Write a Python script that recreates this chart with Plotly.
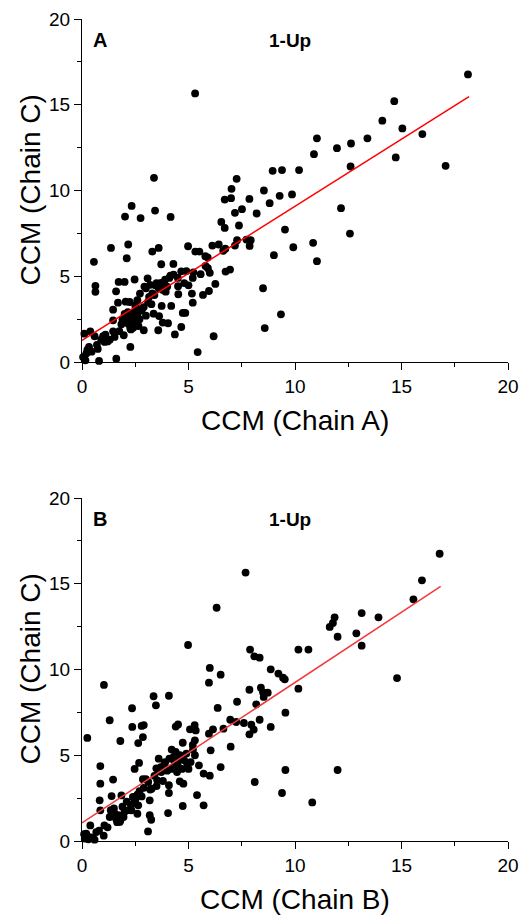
import plotly.graph_objects as go

# ---------------- Panel A: Chain A vs Chain C ----------------
a_x = [18.12, 5.31, 14.66, 14.10, 15.04, 15.98, 13.40, 11.03, 12.63, 11.97, 10.89, 14.73, 17.07, 12.61,
       8.95, 9.39, 10.19, 3.38, 7.26, 7.02, 8.54, 9.86, 9.28, 6.70, 7.00, 7.86, 8.81, 2.33, 7.51, 7.18,
       3.43, 8.20, 12.16, 2.02, 2.75, 4.16, 6.54, 6.70, 7.37, 9.53, 12.58, 7.28, 7.72, 7.92, 7.18, 7.87,
       10.85, 9.92, 2.17, 1.36, 3.60, 3.30, 4.98, 5.32, 5.51, 6.12, 6.42, 6.73, 6.63, 5.79, 2.10, 9.01,
       11.03, 0.56, 3.72, 4.29, 5.91, 6.95, 6.74, 4.66, 5.57, 4.15, 5.23, 0.63, 0.63, 2.47, 3.08, 1.72,
       2.00, 1.60, 8.50, 6.26, 4.51, 5.00, 2.93, 3.44, 3.71, 3.93, 4.52, 5.16, 5.68, 5.96, 2.72, 2.05,
       2.24, 1.69, 5.20, 3.26, 3.74, 4.19, 1.46, 2.80, 4.73, 4.85, 9.34, 3.36, 3.62, 1.46, 2.08, 2.39,
       3.79, 4.04, 2.27, 2.90, 3.58, 4.66, 4.36, 8.58, 6.18, 1.96, 0.11, 0.39, 0.59, 0.99, 1.46, 1.53,
       1.06, 1.30, 2.27, 0.74, 0.33, 0.20, 5.43, 1.61, 0.80, 0.16, 0.05,
       2.10, 2.30, 2.50, 2.60, 2.40, 2.20, 2.70, 2.80, 3.00, 2.90, 2.50, 2.00, 1.90, 2.60, 2.30, 3.10,
       3.40, 3.60, 3.20, 3.50, 3.90, 4.10, 4.30, 4.00, 4.50, 3.80, 3.00, 3.30, 2.60, 4.80, 5.20, 4.90,
       5.80, 5.90, 6.00, 1.20, 0.90, 0.45, 0.25, 1.75, 2.15, 2.55, 3.15, 1.85, 0.70, 1.10, 2.45, 2.65]
a_y = [16.77, 15.66, 15.21, 14.07, 13.62, 13.29, 13.04, 13.04, 12.74, 12.47, 12.12, 11.93, 11.44, 11.40,
       11.15, 11.19, 11.19, 10.74, 10.68, 10.10, 10.00, 9.77, 9.69, 9.47, 9.55, 9.51, 9.26, 9.10, 8.91, 8.70,
       8.83, 8.66, 8.97, 8.48, 8.39, 8.46, 8.17, 7.82, 7.96, 7.72, 7.49, 7.10, 7.14, 7.10, 6.79, 6.77,
       6.95, 6.69, 6.85, 6.65, 6.65, 6.44, 6.75, 6.44, 6.44, 6.79, 6.85, 6.61, 6.48, 6.17, 6.05, 6.23,
       5.88, 5.84, 5.70, 5.72, 5.47, 5.39, 5.27, 5.29, 5.12, 5.04, 5.23, 4.44, 4.09, 4.81, 4.88, 4.67,
       4.67, 4.12, 4.30, 4.55, 4.42, 4.47, 4.40, 4.47, 4.61, 4.10, 3.95, 3.99, 3.91, 4.14, 3.99, 3.52,
       3.50, 3.46, 3.46, 3.37, 3.27, 3.27, 3.05, 3.11, 2.86, 2.86, 2.78, 2.82, 2.68, 2.43, 2.63, 2.43,
       2.30, 2.26, 1.95, 1.85, 1.85, 2.04, 1.61, 1.98, 1.50, 1.56, 1.65, 1.79, 1.50, 1.50, 1.79, 1.46,
       1.17, 1.30, 0.88, 0.76, 0.88, 0.49, 0.58, 0.19, 0.06, 0.10, 0.29,
       2.30, 2.60, 2.20, 2.80, 2.00, 2.20, 2.50, 3.00, 2.70, 3.20, 3.30, 2.80, 2.50, 2.40, 1.90, 3.50,
       3.90, 4.30, 4.50, 4.60, 4.80, 4.90, 5.10, 4.40, 4.90, 4.20, 4.30, 4.00, 3.60, 4.60, 4.90, 5.30,
       5.60, 6.10, 5.20, 1.20, 1.30, 0.60, 0.70, 1.80, 2.90, 3.10, 3.80, 2.20, 1.00, 1.60, 2.90, 2.10]
a_fit_intercept = 1.26
a_fit_slope = 0.782
a_fit_x = [0.0, 18.17]

# ---------------- Panel B: Chain B vs Chain C ----------------
b_x = [16.79, 7.68, 15.96, 15.56, 6.32, 13.13, 13.92, 11.86, 11.78, 11.63, 12.88, 12.00, 13.13, 4.98,
       7.89, 10.16, 10.63, 8.09, 8.34, 6.00, 6.51, 8.86, 9.22, 9.44, 9.52, 5.96, 14.79, 1.03, 10.16, 7.86,
       8.40, 8.50, 8.72, 8.53, 3.36, 4.08, 3.47, 7.28, 8.18, 2.35, 6.37, 9.55, 1.30, 8.34, 6.96, 7.24,
       7.60, 7.95, 8.06, 7.86, 8.86, 2.36, 2.90, 2.80, 4.40, 4.51, 5.29, 5.07, 5.34, 6.15, 5.96, 6.64,
       0.25, 2.86, 1.80, 2.64, 5.30, 4.73, 6.98, 6.04, 5.21, 4.21, 0.86, 2.68, 2.47, 6.51, 9.55, 12.00,
       3.60, 3.88, 4.59, 4.93, 5.49, 3.49, 3.72, 4.46, 5.00, 5.71, 6.00, 1.46, 0.86, 2.86, 3.11, 3.53,
       4.59, 4.76, 8.11, 4.08, 3.27, 4.08, 9.39, 5.40, 1.39, 1.85, 2.39, 3.18, 0.83, 10.81, 4.73, 5.71,
       2.64, 0.86, 2.32, 4.04, 1.53, 2.60, 3.18, 3.25, 1.30, 1.77, 3.10, 1.05, 0.39, 1.02, 0.20, 0.67,
       0.13, 0.59, 0.36,
       1.50, 1.70, 1.90, 1.60, 1.80, 2.00, 1.40, 2.10, 2.50, 2.70, 2.90, 2.60, 3.00, 3.40, 3.70, 3.90,
       4.10, 4.30, 4.50, 4.20, 4.60, 4.40, 4.90, 5.10, 5.30, 4.70, 4.00, 3.50, 3.80, 2.30, 2.80, 1.20,
       0.80, 0.50, 0.10, 0.30, 1.65, 1.95, 2.20, 3.20, 3.60, 4.80, 5.20, 4.35, 1.35, 2.45]
b_y = [16.75, 15.65, 15.20, 14.09, 13.60, 13.29, 13.04, 13.04, 12.71, 12.48, 12.11, 11.91, 11.39, 11.43,
       11.16, 11.16, 11.16, 10.77, 10.69, 10.09, 9.70, 10.01, 9.76, 9.52, 9.43, 9.23, 9.50, 9.10, 8.88, 8.82,
       8.94, 8.67, 8.65, 8.40, 8.44, 8.47, 7.91, 8.12, 7.97, 7.74, 7.76, 7.48, 7.04, 7.07, 7.07, 6.94,
       6.88, 6.78, 6.49, 6.22, 6.65, 6.65, 6.76, 6.71, 6.67, 6.80, 6.76, 6.51, 6.45, 6.51, 6.26, 6.55,
       6.01, 6.06, 5.83, 5.71, 5.87, 5.73, 5.50, 5.29, 5.33, 5.33, 4.37, 4.55, 4.20, 4.31, 4.14, 4.14,
       4.80, 4.51, 4.74, 4.55, 4.41, 4.24, 4.02, 4.02, 4.20, 3.93, 3.81, 3.58, 3.34, 3.60, 3.44, 3.54,
       3.48, 3.34, 3.44, 3.25, 3.05, 2.80, 2.80, 2.68, 2.62, 2.66, 2.57, 2.37, 2.37, 2.25, 2.04, 2.08,
       2.08, 1.79, 1.79, 1.63, 1.59, 1.59, 1.50, 1.24, 1.40, 1.11, 0.56, 0.91, 0.91, 0.31, 0.43, 0.52,
       0.14, 0.08, 0.23,
       1.90, 1.50, 2.00, 1.30, 1.20, 1.70, 1.60, 2.30, 2.40, 2.90, 3.10, 2.70, 3.60, 3.80, 4.30, 4.60,
       4.80, 4.90, 4.40, 4.20, 5.00, 5.20, 5.10, 4.60, 5.00, 4.20, 4.10, 3.20, 3.50, 2.10, 2.60, 0.80,
       0.60, 0.20, 0.40, 0.10, 1.10, 1.40, 1.80, 3.00, 4.10, 4.70, 5.60, 4.60, 1.80, 2.20]
b_fit_intercept = 1.05
b_fit_slope = 0.8195
b_fit_x = [0.0, 16.84]

x_ticks = [0, 5, 10, 15, 20]
y_ticks = [0, 5, 10, 15, 20]

FONT = "Arial, Liberation Sans, sans-serif"

fig = go.Figure()

fig.add_trace(go.Scatter(x=a_x, y=a_y, mode="markers", xaxis="x", yaxis="y",
                         marker=dict(color="black", size=7.8), cliponaxis=False, showlegend=False))
fig.add_trace(go.Scatter(x=a_fit_x, y=[a_fit_intercept + a_fit_slope * v for v in a_fit_x],
                         mode="lines", xaxis="x", yaxis="y",
                         line=dict(color="#ff0000", width=1.5), showlegend=False))
fig.add_trace(go.Scatter(x=b_x, y=b_y, mode="markers", xaxis="x2", yaxis="y2",
                         marker=dict(color="black", size=7.8), cliponaxis=False, showlegend=False))
fig.add_trace(go.Scatter(x=b_fit_x, y=[b_fit_intercept + b_fit_slope * v for v in b_fit_x],
                         mode="lines", xaxis="x2", yaxis="y2",
                         line=dict(color="#f03a3a", width=1.5), showlegend=False))

W, H = 523, 922
ml, mr, mt, mb = 82, 15, 19, 81
ph = H - mt - mb
top_a, bot_a = 19, 362
top_b, bot_b = 498, 841
dom_a = [(H - mb - bot_a) / ph, (H - mb - top_a) / ph]
dom_b = [(H - mb - bot_b) / ph, (H - mb - top_b) / ph]

axis_common = dict(range=[0, 20], tickvals=x_ticks, ticks="outside", ticklen=7, tickwidth=1.3,
                   tickcolor="black", showline=True, linecolor="black", linewidth=1.3,
                   showgrid=False, zeroline=False, mirror=False, automargin=False,
                   tickfont=dict(family=FONT, size=19, color="black"),
                   minor=dict(ticks="outside", ticklen=4, tickwidth=1.2, tickcolor="black", dtick=2.5,
                              tick0=0, showgrid=False))

fig.update_layout(
    width=W, height=H, margin=dict(l=ml, r=mr, t=mt, b=mb, autoexpand=False),
    paper_bgcolor="white", plot_bgcolor="white",
    xaxis=dict(axis_common, anchor="y", domain=[0, 1]),
    yaxis=dict(axis_common, anchor="x", domain=dom_a, tickvals=y_ticks),
    xaxis2=dict(axis_common, anchor="y2", domain=[0, 1]),
    yaxis2=dict(axis_common, anchor="x2", domain=dom_b, tickvals=y_ticks),
)

pw = W - ml - mr
ann = []
for (xr, yr, lab, xt, top, bot) in [("x", "y", "A", "CCM (Chain A)", top_a, bot_a),
                                      ("x2", "y2", "B", "CCM (Chain B)", top_b, bot_b)]:
    ann.append(dict(text="<b>%s</b>" % lab, xref=xr + " domain", yref=yr, x=0.022, y=18.75,
                    xanchor="left", yanchor="middle", showarrow=False,
                    font=dict(family=FONT, size=20, color="black")))
    ann.append(dict(text="<b>1-Up</b>", xref=xr, yref=yr, x=9.75, y=18.75,
                    xanchor="center", yanchor="middle", showarrow=False,
                    font=dict(family=FONT, size=19, color="black")))
    ann.append(dict(text=xt, xref="paper", yref="paper", x=(295 - ml) / pw,
                    y=(H - mb - (bot + 58)) / ph, xanchor="center", yanchor="middle",
                    showarrow=False, font=dict(family=FONT, size=28, color="black")))
    ann.append(dict(text="CCM (Chain C)", xref="paper", yref="paper", x=(30 - ml) / pw,
                    y=(H - mb - (top + bot) / 2) / ph, xanchor="center", yanchor="middle",
                    textangle=-90, showarrow=False, font=dict(family=FONT, size=28, color="black")))
fig.update_layout(annotations=ann)

fig.write_html("out.html", config={"displayModeBar": False},
               post_script="document.body.style.margin='0px';document.body.style.overflow='hidden';")
